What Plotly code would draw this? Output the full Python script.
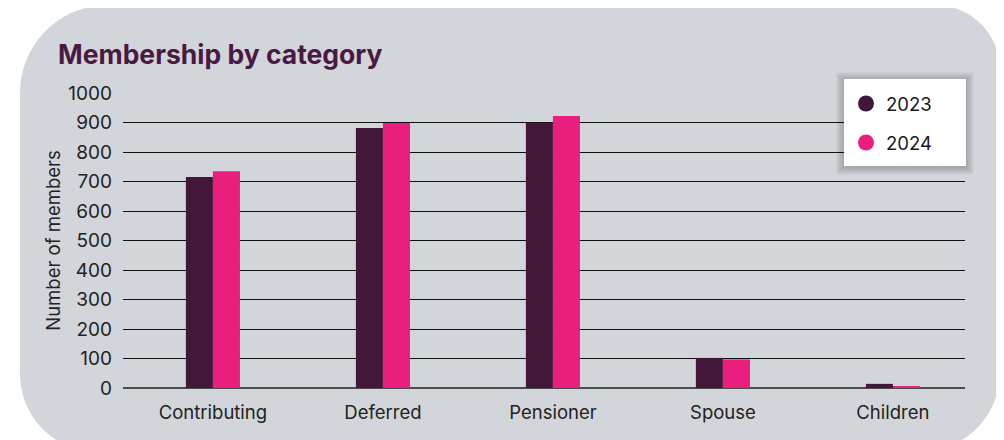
import plotly.graph_objects as go

categories = ["Contributing", "Deferred", "Pensioner", "Spouse", "Children"]
members_2023 = [715, 881, 899, 102, 14]
members_2024 = [735, 898, 922, 97, 5]
series_names = ["2023", "2024"]
y_ticks = [0, 100, 200, 300, 400, 500, 600, 700, 800, 900, 1000]

C23 = "#43173a"
C24 = "#e91e7f"
BG = "#d2d6da"
FONT = "Inter"

OFF = 8  # page body margin offset
W, H = 1004, 440
# reference pixel positions of plot area
L, R, T, B = 123, 965, 93, 388


def px(x):
    return (x - L) / (R - L)


def py(y):
    return (B - y) / (B - T)


def rounded_path(x0, y0, x1, y1, rtl, rtr, rbr, rbl):
    k = 0.5523
    p = []
    p.append(f"M {px(x0 + rtl)},{py(y0)}")
    p.append(f"L {px(x1 - rtr)},{py(y0)}")
    p.append(f"C {px(x1 - rtr + rtr * k)},{py(y0)} {px(x1)},{py(y0 + rtr - rtr * k)} {px(x1)},{py(y0 + rtr)}")
    p.append(f"L {px(x1)},{py(y1 - rbr)}")
    p.append(f"C {px(x1)},{py(y1 - rbr + rbr * k)} {px(x1 - rbr + rbr * k)},{py(y1)} {px(x1 - rbr)},{py(y1)}")
    p.append(f"L {px(x0 + rbl)},{py(y1)}")
    p.append(f"C {px(x0 + rbl - rbl * k)},{py(y1)} {px(x0)},{py(y1 - rbl + rbl * k)} {px(x0)},{py(y1 - rbl)}")
    p.append(f"L {px(x0)},{py(y0 + rtl)}")
    p.append(f"C {px(x0)},{py(y0 + rtl - rtl * k)} {px(x0 + rtl - rtl * k)},{py(y0)} {px(x0 + rtl)},{py(y0)}")
    p.append("Z")
    return " ".join(p)


fig = go.Figure()
fig.add_trace(go.Bar(x=categories, y=members_2023, name=series_names[0],
                     marker=dict(color=C23, line=dict(width=0)), showlegend=False))
fig.add_trace(go.Bar(x=categories, y=members_2024, name=series_names[1],
                     marker=dict(color=C24, line=dict(width=0)), showlegend=False))
fig.add_trace(go.Scatter(x=[None], y=[None], mode="markers", name=series_names[0],
                         marker=dict(color=C23, size=18, symbol="circle"), legend="legend"))
fig.add_trace(go.Scatter(x=[None], y=[None], mode="markers", name=series_names[1],
                         marker=dict(color=C24, size=18, symbol="circle"), legend="legend2"))

shapes = [
    dict(type="path", xref="paper", yref="paper", layer="below",
         path=rounded_path(20, 5, 1000, 452, 88, 65, 80, 78),
         fillcolor=BG, line=dict(width=0)),
]
# legend box shadow
bx0, by0, bx1, by1 = 844, 79, 966, 166
for i in range(1, 9):
    shapes.append(dict(type="rect", xref="paper", yref="paper", layer="above",
                       x0=px(bx0 - i), x1=px(bx1 + i), y0=py(by1 + i + 1), y1=py(by0 - i + 1),
                       fillcolor="rgba(0,0,0,0.028)", line=dict(width=0)))
shapes.append(dict(type="rect", xref="paper", yref="paper", layer="above",
                   x0=px(bx0), x1=px(bx1), y0=py(by1), y1=py(by0),
                   fillcolor="white", line=dict(width=0)))

leg_common = dict(bgcolor="rgba(0,0,0,0)", borderwidth=0, xanchor="left", yanchor="middle",
                  font=dict(family=FONT, size=18.5, color="#1a1a1a"), itemclick=False)

fig.update_layout(
    width=W, height=H,
    margin=dict(l=L - OFF, r=W - R + OFF, t=T - OFF, b=H - B + OFF, pad=0),
    paper_bgcolor="white",
    plot_bgcolor="rgba(0,0,0,0)",
    font=dict(family=FONT, size=19, color="#222222"),
    title=dict(text="<b>Membership by category</b>", xref="container", yref="container",
               x=(58 - OFF) / W, xanchor="left", y=1 - (55 - OFF) / H, yanchor="middle",
               font=dict(family=FONT, size=26.5, color="#4a1942")),
    barmode="group", bargap=0.682, bargroupgap=0,
    xaxis=dict(categoryorder="array", categoryarray=categories, range=[-0.529, 4.424],
               showgrid=False, showline=False, ticks="", zeroline=False,
               ticklabelstandoff=11,
               tickfont=dict(family=FONT, size=18.5, color="#222222")),
    yaxis=dict(range=[0, 1000], tickvals=y_ticks, showgrid=True, gridcolor="#111111", gridwidth=1,
               zeroline=True, zerolinecolor="#4d4d4d", zerolinewidth=2, showline=False, ticks="",
               ticklabelstandoff=10,
               tickfont=dict(family=FONT, size=19, color="#222222"),
               title=dict(text="Number of members", standoff=2,
                          font=dict(family=FONT, size=18.5, color="#222222"))),
    legend=dict(x=px(846), y=py(104), **leg_common),
    legend2=dict(x=px(846), y=py(143), **leg_common),
    shapes=shapes,
)

fig.write_html("out.html")
